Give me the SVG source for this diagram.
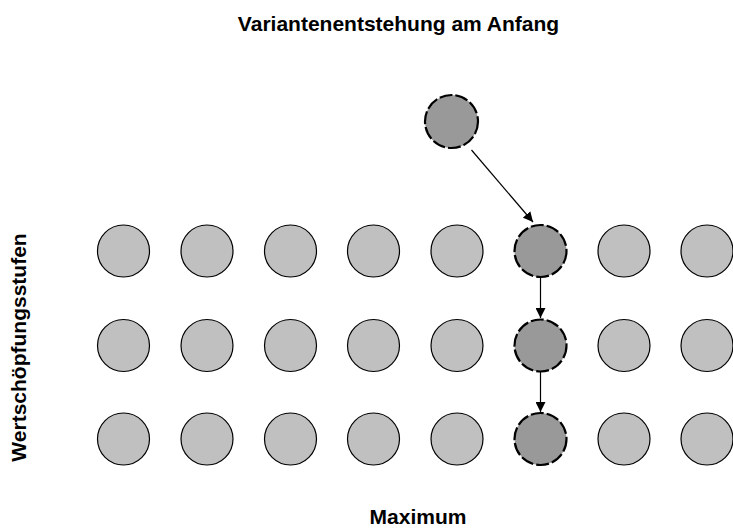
<svg xmlns="http://www.w3.org/2000/svg" width="733" height="531" viewBox="0 0 733 531">
<style>
.lbl{font-family:"Liberation Sans",Arial,sans-serif;font-weight:bold;font-size:21px;fill:#000}
.n{fill:#c0c0c0;stroke:#000;stroke-width:1.2}
.s{fill:#999999;stroke:#000;stroke-width:2.2;stroke-dasharray:13 3}
.e{stroke:#000;stroke-width:1.2;fill:none;marker-end:url(#ah)}
</style>
<defs>
<marker id="ah" markerWidth="10" markerHeight="10" refX="10" refY="5" orient="auto" markerUnits="userSpaceOnUse">
<path d="M0,0 L10,5 L0,10 Z" fill="#000"/>
</marker>
</defs>
<rect width="733" height="531" fill="#fff"/>
<text class="lbl" x="398.5" y="31" text-anchor="middle">Variantenentstehung am Anfang</text>
<text class="lbl" x="418" y="524" text-anchor="middle">Maximum</text>
<text class="lbl" transform="translate(26,347.5) rotate(-90)" text-anchor="middle">Wertschöpfungsstufen</text>
<g id="top"><circle class="s" cx="451.5" cy="121.5" r="26.5"/></g>
<g id="r1">
<g id="n1_1"><circle class="n" cx="123.5" cy="251" r="26"/></g>
<g id="n1_2"><circle class="n" cx="207" cy="251" r="26"/></g>
<g id="n1_3"><circle class="n" cx="290.5" cy="251" r="26"/></g>
<g id="n1_4"><circle class="n" cx="373.5" cy="251" r="26"/></g>
<g id="n1_5"><circle class="n" cx="457" cy="251" r="26"/></g>
<g id="n1_6"><circle class="s" cx="540.5" cy="251" r="26"/></g>
<g id="n1_7"><circle class="n" cx="624" cy="251" r="26"/></g>
<g id="n1_8"><circle class="n" cx="707" cy="251" r="26"/></g>
</g>
<g id="r2">
<g id="n2_1"><circle class="n" cx="123.5" cy="345.5" r="26"/></g>
<g id="n2_2"><circle class="n" cx="207" cy="345.5" r="26"/></g>
<g id="n2_3"><circle class="n" cx="290.5" cy="345.5" r="26"/></g>
<g id="n2_4"><circle class="n" cx="373.5" cy="345.5" r="26"/></g>
<g id="n2_5"><circle class="n" cx="457" cy="345.5" r="26"/></g>
<g id="n2_6"><circle class="s" cx="540.5" cy="345.5" r="26"/></g>
<g id="n2_7"><circle class="n" cx="624" cy="345.5" r="26"/></g>
<g id="n2_8"><circle class="n" cx="707" cy="345.5" r="26"/></g>
</g>
<g id="r3">
<g id="n3_1"><circle class="n" cx="123.5" cy="439" r="26"/></g>
<g id="n3_2"><circle class="n" cx="207" cy="439" r="26"/></g>
<g id="n3_3"><circle class="n" cx="290.5" cy="439" r="26"/></g>
<g id="n3_4"><circle class="n" cx="373.5" cy="439" r="26"/></g>
<g id="n3_5"><circle class="n" cx="457" cy="439" r="26"/></g>
<g id="n3_6"><circle class="s" cx="540.5" cy="439" r="26"/></g>
<g id="n3_7"><circle class="n" cx="624" cy="439" r="26"/></g>
<g id="n3_8"><circle class="n" cx="707" cy="439" r="26"/></g>
</g>
<g id="connectors">
<line class="e" x1="471.5" y1="150" x2="533" y2="222"/>
<line class="e" x1="540.5" y1="277" x2="540.5" y2="318"/>
<line class="e" x1="540.5" y1="372" x2="540.5" y2="412"/>
</g>
</svg>
